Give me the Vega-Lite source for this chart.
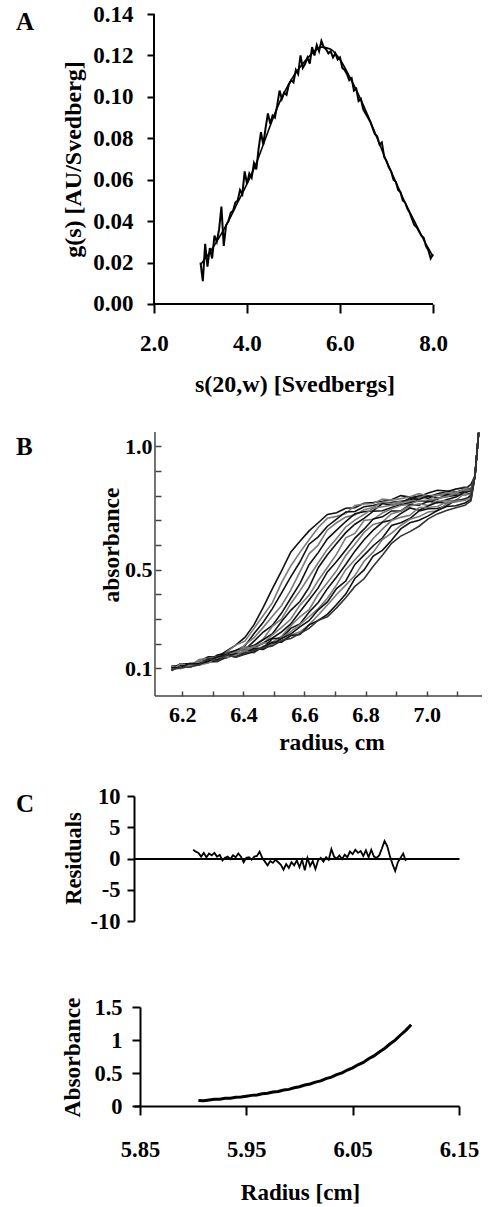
{
"$schema":"https://vega.github.io/schema/vega-lite/v6.json",
"background":"white",
"padding":{"left":16,"top":3,"right":0,"bottom":0},
"autosize":{"type":"pad"},
"bounds":"flush",
"spacing":86,
"config":{
"view":{"stroke":null},
"font":"Liberation Serif",
"axis":{"labelFont":"Liberation Serif","titleFont":"Liberation Serif","labelFontWeight":"bold","titleFontWeight":"bold","labelColor":"#000","titleColor":"#000","domainColor":"#000","tickColor":"#000","grid":false,"labelFlush":false,"labelOverlap":false,"domainWidth":2,"tickWidth":2,"titleBaseline":"alphabetic"},
"title":{"font":"Liberation Serif","fontWeight":"bold","fontSize":25,"anchor":"start","frame":"group","baseline":"alphabetic","offset":0,"align":"left","color":"#000"}
},
"datasets":{
"axA":[{"x":2,"x2":2,"y":0,"y2":0.14},{"x":2,"x2":8,"y":0,"y2":0}],
"axB":[{"x":6.1107,"x2":6.1107,"y":-0.012,"y2":1.058},{"x":6.1107,"x2":7.181,"y":-0.012,"y2":-0.012}],
"afit":[{"x":3.0,"y":0.019},{"x":3.2,"y":0.025},{"x":3.4,"y":0.032},{"x":3.6,"y":0.040},{"x":3.8,"y":0.049},{"x":4.0,"y":0.058},{"x":4.2,"y":0.068},{"x":4.4,"y":0.080},{"x":4.6,"y":0.092},{"x":4.8,"y":0.102},{"x":5.0,"y":0.110},{"x":5.2,"y":0.116},{"x":5.4,"y":0.121},{"x":5.6,"y":0.124},{"x":5.8,"y":0.123},{"x":6.0,"y":0.118},{"x":6.2,"y":0.110},{"x":6.4,"y":0.101},{"x":6.6,"y":0.091},{"x":6.8,"y":0.080},{"x":7.0,"y":0.069},{"x":7.2,"y":0.059},{"x":7.4,"y":0.049},{"x":7.6,"y":0.040},{"x":7.8,"y":0.031},{"x":8.0,"y":0.023}],
"adat":[{"x":3.00,"y":0.020},{"x":3.05,"y":0.011},{"x":3.10,"y":0.029},{"x":3.15,"y":0.018},{"x":3.20,"y":0.027},{"x":3.25,"y":0.022},{"x":3.30,"y":0.033},{"x":3.35,"y":0.030},{"x":3.40,"y":0.036},{"x":3.45,"y":0.047},{"x":3.50,"y":0.028},{"x":3.55,"y":0.038},{"x":3.60,"y":0.040},{"x":3.65,"y":0.044},{"x":3.70,"y":0.045},{"x":3.75,"y":0.049},{"x":3.80,"y":0.050},{"x":3.85,"y":0.055},{"x":3.90,"y":0.053},{"x":3.95,"y":0.064},{"x":4.00,"y":0.058},{"x":4.05,"y":0.063},{"x":4.10,"y":0.061},{"x":4.15,"y":0.068},{"x":4.20,"y":0.065},{"x":4.25,"y":0.075},{"x":4.30,"y":0.083},{"x":4.35,"y":0.077},{"x":4.40,"y":0.085},{"x":4.45,"y":0.092},{"x":4.50,"y":0.087},{"x":4.55,"y":0.091},{"x":4.60,"y":0.090},{"x":4.65,"y":0.096},{"x":4.70,"y":0.103},{"x":4.75,"y":0.099},{"x":4.80,"y":0.102},{"x":4.85,"y":0.101},{"x":4.90,"y":0.106},{"x":4.95,"y":0.108},{"x":5.00,"y":0.107},{"x":5.05,"y":0.113},{"x":5.10,"y":0.111},{"x":5.15,"y":0.120},{"x":5.20,"y":0.114},{"x":5.25,"y":0.116},{"x":5.30,"y":0.119},{"x":5.35,"y":0.116},{"x":5.40,"y":0.124},{"x":5.45,"y":0.120},{"x":5.50,"y":0.125},{"x":5.55,"y":0.122},{"x":5.60,"y":0.127},{"x":5.65,"y":0.124},{"x":5.70,"y":0.123},{"x":5.75,"y":0.121},{"x":5.80,"y":0.122},{"x":5.85,"y":0.119},{"x":5.90,"y":0.121},{"x":5.95,"y":0.118},{"x":6.00,"y":0.119},{"x":6.05,"y":0.114},{"x":6.10,"y":0.113},{"x":6.15,"y":0.111},{"x":6.20,"y":0.108},{"x":6.25,"y":0.109},{"x":6.30,"y":0.103},{"x":6.35,"y":0.104},{"x":6.40,"y":0.098},{"x":6.45,"y":0.099},{"x":6.50,"y":0.094},{"x":6.55,"y":0.092},{"x":6.60,"y":0.090},{"x":6.65,"y":0.088},{"x":6.70,"y":0.085},{"x":6.75,"y":0.082},{"x":6.80,"y":0.081},{"x":6.85,"y":0.077},{"x":6.90,"y":0.078},{"x":6.95,"y":0.071},{"x":7.00,"y":0.069},{"x":7.05,"y":0.066},{"x":7.10,"y":0.064},{"x":7.15,"y":0.060},{"x":7.20,"y":0.059},{"x":7.25,"y":0.055},{"x":7.30,"y":0.054},{"x":7.35,"y":0.050},{"x":7.40,"y":0.049},{"x":7.45,"y":0.046},{"x":7.50,"y":0.044},{"x":7.55,"y":0.041},{"x":7.60,"y":0.038},{"x":7.65,"y":0.037},{"x":7.70,"y":0.035},{"x":7.75,"y":0.033},{"x":7.80,"y":0.032},{"x":7.85,"y":0.028},{"x":7.90,"y":0.026},{"x":7.95,"y":0.022},{"x":8.00,"y":0.024}],
"bd":[
{"c":0,"x":6.165,"y":0.094},{"c":0,"x":6.195,"y":0.109},{"c":0,"x":6.225,"y":0.110},{"c":0,"x":6.255,"y":0.128},{"c":0,"x":6.285,"y":0.147},{"c":0,"x":6.315,"y":0.146},{"c":0,"x":6.345,"y":0.171},{"c":0,"x":6.375,"y":0.194},{"c":0,"x":6.405,"y":0.225},{"c":0,"x":6.435,"y":0.277},{"c":0,"x":6.465,"y":0.347},{"c":0,"x":6.495,"y":0.423},{"c":0,"x":6.525,"y":0.495},{"c":0,"x":6.555,"y":0.571},{"c":0,"x":6.585,"y":0.615},{"c":0,"x":6.615,"y":0.657},{"c":0,"x":6.645,"y":0.690},{"c":0,"x":6.675,"y":0.724},{"c":0,"x":6.705,"y":0.731},{"c":0,"x":6.735,"y":0.749},{"c":0,"x":6.765,"y":0.751},{"c":0,"x":6.795,"y":0.769},{"c":0,"x":6.825,"y":0.772},{"c":0,"x":6.855,"y":0.777},{"c":0,"x":6.885,"y":0.783},{"c":0,"x":6.915,"y":0.800},{"c":0,"x":6.945,"y":0.794},{"c":0,"x":6.975,"y":0.796},{"c":0,"x":7.005,"y":0.811},{"c":0,"x":7.035,"y":0.822},{"c":0,"x":7.065,"y":0.819},{"c":0,"x":7.095,"y":0.814},{"c":0,"x":7.125,"y":0.826},{"c":0,"x":7.145,"y":0.846},{"c":0,"x":7.158,"y":0.88},{"c":0,"x":7.17,"y":1.055},
{"c":1,"x":6.165,"y":0.110},{"c":1,"x":6.195,"y":0.108},{"c":1,"x":6.225,"y":0.109},{"c":1,"x":6.255,"y":0.136},{"c":1,"x":6.285,"y":0.141},{"c":1,"x":6.315,"y":0.140},{"c":1,"x":6.345,"y":0.166},{"c":1,"x":6.375,"y":0.194},{"c":1,"x":6.405,"y":0.210},{"c":1,"x":6.435,"y":0.262},{"c":1,"x":6.465,"y":0.314},{"c":1,"x":6.495,"y":0.366},{"c":1,"x":6.525,"y":0.447},{"c":1,"x":6.555,"y":0.515},{"c":1,"x":6.585,"y":0.570},{"c":1,"x":6.615,"y":0.621},{"c":1,"x":6.645,"y":0.671},{"c":1,"x":6.675,"y":0.708},{"c":1,"x":6.705,"y":0.716},{"c":1,"x":6.735,"y":0.727},{"c":1,"x":6.765,"y":0.760},{"c":1,"x":6.795,"y":0.766},{"c":1,"x":6.825,"y":0.768},{"c":1,"x":6.855,"y":0.786},{"c":1,"x":6.885,"y":0.782},{"c":1,"x":6.915,"y":0.788},{"c":1,"x":6.945,"y":0.795},{"c":1,"x":6.975,"y":0.808},{"c":1,"x":7.005,"y":0.798},{"c":1,"x":7.035,"y":0.806},{"c":1,"x":7.065,"y":0.805},{"c":1,"x":7.095,"y":0.826},{"c":1,"x":7.125,"y":0.836},{"c":1,"x":7.145,"y":0.827},{"c":1,"x":7.158,"y":0.88},{"c":1,"x":7.17,"y":1.055},
{"c":2,"x":6.165,"y":0.104},{"c":2,"x":6.195,"y":0.108},{"c":2,"x":6.225,"y":0.106},{"c":2,"x":6.255,"y":0.128},{"c":2,"x":6.285,"y":0.130},{"c":2,"x":6.315,"y":0.154},{"c":2,"x":6.345,"y":0.162},{"c":2,"x":6.375,"y":0.172},{"c":2,"x":6.405,"y":0.191},{"c":2,"x":6.435,"y":0.241},{"c":2,"x":6.465,"y":0.287},{"c":2,"x":6.495,"y":0.342},{"c":2,"x":6.525,"y":0.406},{"c":2,"x":6.555,"y":0.471},{"c":2,"x":6.585,"y":0.531},{"c":2,"x":6.615,"y":0.603},{"c":2,"x":6.645,"y":0.633},{"c":2,"x":6.675,"y":0.676},{"c":2,"x":6.705,"y":0.705},{"c":2,"x":6.735,"y":0.734},{"c":2,"x":6.765,"y":0.736},{"c":2,"x":6.795,"y":0.755},{"c":2,"x":6.825,"y":0.760},{"c":2,"x":6.855,"y":0.770},{"c":2,"x":6.885,"y":0.773},{"c":2,"x":6.915,"y":0.777},{"c":2,"x":6.945,"y":0.782},{"c":2,"x":6.975,"y":0.799},{"c":2,"x":7.005,"y":0.789},{"c":2,"x":7.035,"y":0.808},{"c":2,"x":7.065,"y":0.816},{"c":2,"x":7.095,"y":0.827},{"c":2,"x":7.125,"y":0.832},{"c":2,"x":7.145,"y":0.826},{"c":2,"x":7.158,"y":0.88},{"c":2,"x":7.17,"y":1.055},
{"c":3,"x":6.165,"y":0.102},{"c":3,"x":6.195,"y":0.106},{"c":3,"x":6.225,"y":0.115},{"c":3,"x":6.255,"y":0.119},{"c":3,"x":6.285,"y":0.126},{"c":3,"x":6.315,"y":0.136},{"c":3,"x":6.345,"y":0.161},{"c":3,"x":6.375,"y":0.162},{"c":3,"x":6.405,"y":0.195},{"c":3,"x":6.435,"y":0.224},{"c":3,"x":6.465,"y":0.266},{"c":3,"x":6.495,"y":0.311},{"c":3,"x":6.525,"y":0.355},{"c":3,"x":6.555,"y":0.417},{"c":3,"x":6.585,"y":0.491},{"c":3,"x":6.615,"y":0.564},{"c":3,"x":6.645,"y":0.600},{"c":3,"x":6.675,"y":0.661},{"c":3,"x":6.705,"y":0.690},{"c":3,"x":6.735,"y":0.713},{"c":3,"x":6.765,"y":0.722},{"c":3,"x":6.795,"y":0.743},{"c":3,"x":6.825,"y":0.752},{"c":3,"x":6.855,"y":0.774},{"c":3,"x":6.885,"y":0.768},{"c":3,"x":6.915,"y":0.777},{"c":3,"x":6.945,"y":0.775},{"c":3,"x":6.975,"y":0.793},{"c":3,"x":7.005,"y":0.798},{"c":3,"x":7.035,"y":0.800},{"c":3,"x":7.065,"y":0.812},{"c":3,"x":7.095,"y":0.803},{"c":3,"x":7.125,"y":0.830},{"c":3,"x":7.145,"y":0.824},{"c":3,"x":7.158,"y":0.88},{"c":3,"x":7.17,"y":1.055},
{"c":4,"x":6.165,"y":0.109},{"c":4,"x":6.195,"y":0.108},{"c":4,"x":6.225,"y":0.115},{"c":4,"x":6.255,"y":0.127},{"c":4,"x":6.285,"y":0.123},{"c":4,"x":6.315,"y":0.152},{"c":4,"x":6.345,"y":0.155},{"c":4,"x":6.375,"y":0.169},{"c":4,"x":6.405,"y":0.176},{"c":4,"x":6.435,"y":0.210},{"c":4,"x":6.465,"y":0.247},{"c":4,"x":6.495,"y":0.274},{"c":4,"x":6.525,"y":0.324},{"c":4,"x":6.555,"y":0.384},{"c":4,"x":6.585,"y":0.443},{"c":4,"x":6.615,"y":0.520},{"c":4,"x":6.645,"y":0.569},{"c":4,"x":6.675,"y":0.625},{"c":4,"x":6.705,"y":0.660},{"c":4,"x":6.735,"y":0.695},{"c":4,"x":6.765,"y":0.727},{"c":4,"x":6.795,"y":0.735},{"c":4,"x":6.825,"y":0.739},{"c":4,"x":6.855,"y":0.768},{"c":4,"x":6.885,"y":0.761},{"c":4,"x":6.915,"y":0.770},{"c":4,"x":6.945,"y":0.789},{"c":4,"x":6.975,"y":0.785},{"c":4,"x":7.005,"y":0.799},{"c":4,"x":7.035,"y":0.790},{"c":4,"x":7.065,"y":0.796},{"c":4,"x":7.095,"y":0.802},{"c":4,"x":7.125,"y":0.822},{"c":4,"x":7.145,"y":0.823},{"c":4,"x":7.158,"y":0.88},{"c":4,"x":7.17,"y":1.055},
{"c":5,"x":6.165,"y":0.102},{"c":5,"x":6.195,"y":0.098},{"c":5,"x":6.225,"y":0.110},{"c":5,"x":6.255,"y":0.132},{"c":5,"x":6.285,"y":0.131},{"c":5,"x":6.315,"y":0.134},{"c":5,"x":6.345,"y":0.142},{"c":5,"x":6.375,"y":0.160},{"c":5,"x":6.405,"y":0.185},{"c":5,"x":6.435,"y":0.190},{"c":5,"x":6.465,"y":0.219},{"c":5,"x":6.495,"y":0.270},{"c":5,"x":6.525,"y":0.300},{"c":5,"x":6.555,"y":0.362},{"c":5,"x":6.585,"y":0.414},{"c":5,"x":6.615,"y":0.471},{"c":5,"x":6.645,"y":0.528},{"c":5,"x":6.675,"y":0.583},{"c":5,"x":6.705,"y":0.626},{"c":5,"x":6.735,"y":0.673},{"c":5,"x":6.765,"y":0.701},{"c":5,"x":6.795,"y":0.724},{"c":5,"x":6.825,"y":0.749},{"c":5,"x":6.855,"y":0.755},{"c":5,"x":6.885,"y":0.761},{"c":5,"x":6.915,"y":0.770},{"c":5,"x":6.945,"y":0.779},{"c":5,"x":6.975,"y":0.776},{"c":5,"x":7.005,"y":0.782},{"c":5,"x":7.035,"y":0.804},{"c":5,"x":7.065,"y":0.799},{"c":5,"x":7.095,"y":0.814},{"c":5,"x":7.125,"y":0.823},{"c":5,"x":7.145,"y":0.822},{"c":5,"x":7.158,"y":0.88},{"c":5,"x":7.17,"y":1.055},
{"c":6,"x":6.165,"y":0.100},{"c":6,"x":6.195,"y":0.118},{"c":6,"x":6.225,"y":0.112},{"c":6,"x":6.255,"y":0.113},{"c":6,"x":6.285,"y":0.129},{"c":6,"x":6.315,"y":0.149},{"c":6,"x":6.345,"y":0.143},{"c":6,"x":6.375,"y":0.172},{"c":6,"x":6.405,"y":0.179},{"c":6,"x":6.435,"y":0.193},{"c":6,"x":6.465,"y":0.216},{"c":6,"x":6.495,"y":0.240},{"c":6,"x":6.525,"y":0.290},{"c":6,"x":6.555,"y":0.335},{"c":6,"x":6.585,"y":0.371},{"c":6,"x":6.615,"y":0.428},{"c":6,"x":6.645,"y":0.508},{"c":6,"x":6.675,"y":0.560},{"c":6,"x":6.705,"y":0.606},{"c":6,"x":6.735,"y":0.650},{"c":6,"x":6.765,"y":0.684},{"c":6,"x":6.795,"y":0.708},{"c":6,"x":6.825,"y":0.737},{"c":6,"x":6.855,"y":0.739},{"c":6,"x":6.885,"y":0.752},{"c":6,"x":6.915,"y":0.763},{"c":6,"x":6.945,"y":0.771},{"c":6,"x":6.975,"y":0.780},{"c":6,"x":7.005,"y":0.775},{"c":6,"x":7.035,"y":0.785},{"c":6,"x":7.065,"y":0.804},{"c":6,"x":7.095,"y":0.801},{"c":6,"x":7.125,"y":0.815},{"c":6,"x":7.145,"y":0.818},{"c":6,"x":7.158,"y":0.88},{"c":6,"x":7.17,"y":1.055},
{"c":7,"x":6.165,"y":0.109},{"c":7,"x":6.195,"y":0.103},{"c":7,"x":6.225,"y":0.112},{"c":7,"x":6.255,"y":0.120},{"c":7,"x":6.285,"y":0.136},{"c":7,"x":6.315,"y":0.148},{"c":7,"x":6.345,"y":0.152},{"c":7,"x":6.375,"y":0.166},{"c":7,"x":6.405,"y":0.181},{"c":7,"x":6.435,"y":0.186},{"c":7,"x":6.465,"y":0.200},{"c":7,"x":6.495,"y":0.236},{"c":7,"x":6.525,"y":0.266},{"c":7,"x":6.555,"y":0.299},{"c":7,"x":6.585,"y":0.356},{"c":7,"x":6.615,"y":0.396},{"c":7,"x":6.645,"y":0.456},{"c":7,"x":6.675,"y":0.509},{"c":7,"x":6.705,"y":0.563},{"c":7,"x":6.735,"y":0.629},{"c":7,"x":6.765,"y":0.647},{"c":7,"x":6.795,"y":0.699},{"c":7,"x":6.825,"y":0.704},{"c":7,"x":6.855,"y":0.730},{"c":7,"x":6.885,"y":0.747},{"c":7,"x":6.915,"y":0.760},{"c":7,"x":6.945,"y":0.765},{"c":7,"x":6.975,"y":0.780},{"c":7,"x":7.005,"y":0.780},{"c":7,"x":7.035,"y":0.789},{"c":7,"x":7.065,"y":0.796},{"c":7,"x":7.095,"y":0.809},{"c":7,"x":7.125,"y":0.801},{"c":7,"x":7.145,"y":0.811},{"c":7,"x":7.158,"y":0.88},{"c":7,"x":7.17,"y":1.055},
{"c":8,"x":6.165,"y":0.100},{"c":8,"x":6.195,"y":0.111},{"c":8,"x":6.225,"y":0.105},{"c":8,"x":6.255,"y":0.119},{"c":8,"x":6.285,"y":0.130},{"c":8,"x":6.315,"y":0.147},{"c":8,"x":6.345,"y":0.151},{"c":8,"x":6.375,"y":0.151},{"c":8,"x":6.405,"y":0.160},{"c":8,"x":6.435,"y":0.184},{"c":8,"x":6.465,"y":0.203},{"c":8,"x":6.495,"y":0.223},{"c":8,"x":6.525,"y":0.248},{"c":8,"x":6.555,"y":0.280},{"c":8,"x":6.585,"y":0.329},{"c":8,"x":6.615,"y":0.377},{"c":8,"x":6.645,"y":0.426},{"c":8,"x":6.675,"y":0.491},{"c":8,"x":6.705,"y":0.533},{"c":8,"x":6.735,"y":0.580},{"c":8,"x":6.765,"y":0.628},{"c":8,"x":6.795,"y":0.664},{"c":8,"x":6.825,"y":0.705},{"c":8,"x":6.855,"y":0.714},{"c":8,"x":6.885,"y":0.738},{"c":8,"x":6.915,"y":0.738},{"c":8,"x":6.945,"y":0.763},{"c":8,"x":6.975,"y":0.761},{"c":8,"x":7.005,"y":0.777},{"c":8,"x":7.035,"y":0.771},{"c":8,"x":7.065,"y":0.783},{"c":8,"x":7.095,"y":0.794},{"c":8,"x":7.125,"y":0.813},{"c":8,"x":7.145,"y":0.803},{"c":8,"x":7.158,"y":0.88},{"c":8,"x":7.17,"y":1.055},
{"c":9,"x":6.165,"y":0.100},{"c":9,"x":6.195,"y":0.100},{"c":9,"x":6.225,"y":0.110},{"c":9,"x":6.255,"y":0.127},{"c":9,"x":6.285,"y":0.127},{"c":9,"x":6.315,"y":0.144},{"c":9,"x":6.345,"y":0.143},{"c":9,"x":6.375,"y":0.156},{"c":9,"x":6.405,"y":0.169},{"c":9,"x":6.435,"y":0.189},{"c":9,"x":6.465,"y":0.202},{"c":9,"x":6.495,"y":0.206},{"c":9,"x":6.525,"y":0.230},{"c":9,"x":6.555,"y":0.272},{"c":9,"x":6.585,"y":0.309},{"c":9,"x":6.615,"y":0.338},{"c":9,"x":6.645,"y":0.400},{"c":9,"x":6.675,"y":0.447},{"c":9,"x":6.705,"y":0.496},{"c":9,"x":6.735,"y":0.557},{"c":9,"x":6.765,"y":0.603},{"c":9,"x":6.795,"y":0.651},{"c":9,"x":6.825,"y":0.683},{"c":9,"x":6.855,"y":0.693},{"c":9,"x":6.885,"y":0.727},{"c":9,"x":6.915,"y":0.737},{"c":9,"x":6.945,"y":0.758},{"c":9,"x":6.975,"y":0.767},{"c":9,"x":7.005,"y":0.760},{"c":9,"x":7.035,"y":0.777},{"c":9,"x":7.065,"y":0.779},{"c":9,"x":7.095,"y":0.781},{"c":9,"x":7.125,"y":0.809},{"c":9,"x":7.145,"y":0.802},{"c":9,"x":7.158,"y":0.88},{"c":9,"x":7.17,"y":1.055},
{"c":10,"x":6.165,"y":0.091},{"c":10,"x":6.195,"y":0.118},{"c":10,"x":6.225,"y":0.118},{"c":10,"x":6.255,"y":0.117},{"c":10,"x":6.285,"y":0.138},{"c":10,"x":6.315,"y":0.134},{"c":10,"x":6.345,"y":0.157},{"c":10,"x":6.375,"y":0.151},{"c":10,"x":6.405,"y":0.168},{"c":10,"x":6.435,"y":0.178},{"c":10,"x":6.465,"y":0.183},{"c":10,"x":6.495,"y":0.220},{"c":10,"x":6.525,"y":0.223},{"c":10,"x":6.555,"y":0.262},{"c":10,"x":6.585,"y":0.280},{"c":10,"x":6.615,"y":0.327},{"c":10,"x":6.645,"y":0.367},{"c":10,"x":6.675,"y":0.423},{"c":10,"x":6.705,"y":0.470},{"c":10,"x":6.735,"y":0.521},{"c":10,"x":6.765,"y":0.575},{"c":10,"x":6.795,"y":0.621},{"c":10,"x":6.825,"y":0.660},{"c":10,"x":6.855,"y":0.692},{"c":10,"x":6.885,"y":0.701},{"c":10,"x":6.915,"y":0.727},{"c":10,"x":6.945,"y":0.750},{"c":10,"x":6.975,"y":0.741},{"c":10,"x":7.005,"y":0.758},{"c":10,"x":7.035,"y":0.773},{"c":10,"x":7.065,"y":0.769},{"c":10,"x":7.095,"y":0.777},{"c":10,"x":7.125,"y":0.787},{"c":10,"x":7.145,"y":0.795},{"c":10,"x":7.158,"y":0.88},{"c":10,"x":7.17,"y":1.055},
{"c":11,"x":6.165,"y":0.098},{"c":11,"x":6.195,"y":0.105},{"c":11,"x":6.225,"y":0.105},{"c":11,"x":6.255,"y":0.123},{"c":11,"x":6.285,"y":0.127},{"c":11,"x":6.315,"y":0.128},{"c":11,"x":6.345,"y":0.148},{"c":11,"x":6.375,"y":0.154},{"c":11,"x":6.405,"y":0.173},{"c":11,"x":6.435,"y":0.184},{"c":11,"x":6.465,"y":0.185},{"c":11,"x":6.495,"y":0.195},{"c":11,"x":6.525,"y":0.223},{"c":11,"x":6.555,"y":0.249},{"c":11,"x":6.585,"y":0.277},{"c":11,"x":6.615,"y":0.309},{"c":11,"x":6.645,"y":0.342},{"c":11,"x":6.675,"y":0.384},{"c":11,"x":6.705,"y":0.438},{"c":11,"x":6.735,"y":0.500},{"c":11,"x":6.765,"y":0.540},{"c":11,"x":6.795,"y":0.580},{"c":11,"x":6.825,"y":0.626},{"c":11,"x":6.855,"y":0.664},{"c":11,"x":6.885,"y":0.699},{"c":11,"x":6.915,"y":0.712},{"c":11,"x":6.945,"y":0.720},{"c":11,"x":6.975,"y":0.752},{"c":11,"x":7.005,"y":0.752},{"c":11,"x":7.035,"y":0.756},{"c":11,"x":7.065,"y":0.774},{"c":11,"x":7.095,"y":0.774},{"c":11,"x":7.125,"y":0.782},{"c":11,"x":7.145,"y":0.801},{"c":11,"x":7.158,"y":0.88},{"c":11,"x":7.17,"y":1.055},
{"c":12,"x":6.165,"y":0.091},{"c":12,"x":6.195,"y":0.118},{"c":12,"x":6.225,"y":0.114},{"c":12,"x":6.255,"y":0.119},{"c":12,"x":6.285,"y":0.127},{"c":12,"x":6.315,"y":0.128},{"c":12,"x":6.345,"y":0.147},{"c":12,"x":6.375,"y":0.160},{"c":12,"x":6.405,"y":0.159},{"c":12,"x":6.435,"y":0.180},{"c":12,"x":6.465,"y":0.177},{"c":12,"x":6.495,"y":0.198},{"c":12,"x":6.525,"y":0.221},{"c":12,"x":6.555,"y":0.239},{"c":12,"x":6.585,"y":0.268},{"c":12,"x":6.615,"y":0.293},{"c":12,"x":6.645,"y":0.337},{"c":12,"x":6.675,"y":0.369},{"c":12,"x":6.705,"y":0.423},{"c":12,"x":6.735,"y":0.454},{"c":12,"x":6.765,"y":0.521},{"c":12,"x":6.795,"y":0.559},{"c":12,"x":6.825,"y":0.597},{"c":12,"x":6.855,"y":0.628},{"c":12,"x":6.885,"y":0.679},{"c":12,"x":6.915,"y":0.690},{"c":12,"x":6.945,"y":0.707},{"c":12,"x":6.975,"y":0.738},{"c":12,"x":7.005,"y":0.747},{"c":12,"x":7.035,"y":0.748},{"c":12,"x":7.065,"y":0.759},{"c":12,"x":7.095,"y":0.781},{"c":12,"x":7.125,"y":0.782},{"c":12,"x":7.145,"y":0.801},{"c":12,"x":7.158,"y":0.88},{"c":12,"x":7.17,"y":1.055},
{"c":13,"x":6.165,"y":0.093},{"c":13,"x":6.195,"y":0.118},{"c":13,"x":6.225,"y":0.112},{"c":13,"x":6.255,"y":0.114},{"c":13,"x":6.285,"y":0.122},{"c":13,"x":6.315,"y":0.146},{"c":13,"x":6.345,"y":0.147},{"c":13,"x":6.375,"y":0.153},{"c":13,"x":6.405,"y":0.171},{"c":13,"x":6.435,"y":0.163},{"c":13,"x":6.465,"y":0.190},{"c":13,"x":6.495,"y":0.196},{"c":13,"x":6.525,"y":0.212},{"c":13,"x":6.555,"y":0.234},{"c":13,"x":6.585,"y":0.248},{"c":13,"x":6.615,"y":0.276},{"c":13,"x":6.645,"y":0.316},{"c":13,"x":6.675,"y":0.357},{"c":13,"x":6.705,"y":0.399},{"c":13,"x":6.735,"y":0.437},{"c":13,"x":6.765,"y":0.476},{"c":13,"x":6.795,"y":0.534},{"c":13,"x":6.825,"y":0.571},{"c":13,"x":6.855,"y":0.622},{"c":13,"x":6.885,"y":0.648},{"c":13,"x":6.915,"y":0.679},{"c":13,"x":6.945,"y":0.704},{"c":13,"x":6.975,"y":0.715},{"c":13,"x":7.005,"y":0.734},{"c":13,"x":7.035,"y":0.739},{"c":13,"x":7.065,"y":0.767},{"c":13,"x":7.095,"y":0.778},{"c":13,"x":7.125,"y":0.781},{"c":13,"x":7.145,"y":0.793},{"c":13,"x":7.158,"y":0.88},{"c":13,"x":7.17,"y":1.055},
{"c":14,"x":6.165,"y":0.102},{"c":14,"x":6.195,"y":0.103},{"c":14,"x":6.225,"y":0.120},{"c":14,"x":6.255,"y":0.117},{"c":14,"x":6.285,"y":0.129},{"c":14,"x":6.315,"y":0.146},{"c":14,"x":6.345,"y":0.155},{"c":14,"x":6.375,"y":0.145},{"c":14,"x":6.405,"y":0.157},{"c":14,"x":6.435,"y":0.167},{"c":14,"x":6.465,"y":0.187},{"c":14,"x":6.495,"y":0.205},{"c":14,"x":6.525,"y":0.206},{"c":14,"x":6.555,"y":0.233},{"c":14,"x":6.585,"y":0.237},{"c":14,"x":6.615,"y":0.276},{"c":14,"x":6.645,"y":0.294},{"c":14,"x":6.675,"y":0.319},{"c":14,"x":6.705,"y":0.359},{"c":14,"x":6.735,"y":0.401},{"c":14,"x":6.765,"y":0.464},{"c":14,"x":6.795,"y":0.499},{"c":14,"x":6.825,"y":0.555},{"c":14,"x":6.855,"y":0.578},{"c":14,"x":6.885,"y":0.619},{"c":14,"x":6.915,"y":0.665},{"c":14,"x":6.945,"y":0.690},{"c":14,"x":6.975,"y":0.700},{"c":14,"x":7.005,"y":0.718},{"c":14,"x":7.035,"y":0.740},{"c":14,"x":7.065,"y":0.756},{"c":14,"x":7.095,"y":0.759},{"c":14,"x":7.125,"y":0.770},{"c":14,"x":7.145,"y":0.785},{"c":14,"x":7.158,"y":0.88},{"c":14,"x":7.17,"y":1.055},
{"c":15,"x":6.165,"y":0.093},{"c":15,"x":6.195,"y":0.103},{"c":15,"x":6.225,"y":0.105},{"c":15,"x":6.255,"y":0.114},{"c":15,"x":6.285,"y":0.140},{"c":15,"x":6.315,"y":0.128},{"c":15,"x":6.345,"y":0.155},{"c":15,"x":6.375,"y":0.145},{"c":15,"x":6.405,"y":0.160},{"c":15,"x":6.435,"y":0.172},{"c":15,"x":6.465,"y":0.184},{"c":15,"x":6.495,"y":0.191},{"c":15,"x":6.525,"y":0.213},{"c":15,"x":6.555,"y":0.221},{"c":15,"x":6.585,"y":0.241},{"c":15,"x":6.615,"y":0.262},{"c":15,"x":6.645,"y":0.295},{"c":15,"x":6.675,"y":0.309},{"c":15,"x":6.705,"y":0.345},{"c":15,"x":6.735,"y":0.386},{"c":15,"x":6.765,"y":0.432},{"c":15,"x":6.795,"y":0.463},{"c":15,"x":6.825,"y":0.514},{"c":15,"x":6.855,"y":0.558},{"c":15,"x":6.885,"y":0.607},{"c":15,"x":6.915,"y":0.636},{"c":15,"x":6.945,"y":0.654},{"c":15,"x":6.975,"y":0.676},{"c":15,"x":7.005,"y":0.706},{"c":15,"x":7.035,"y":0.726},{"c":15,"x":7.065,"y":0.740},{"c":15,"x":7.095,"y":0.751},{"c":15,"x":7.125,"y":0.761},{"c":15,"x":7.145,"y":0.779},{"c":15,"x":7.158,"y":0.88},{"c":15,"x":7.17,"y":1.055}
],
"res":[{"x":5.9,"y":1.4},{"x":5.9025,"y":1.1},{"x":5.905,"y":0.9},{"x":5.9075,"y":0.3},{"x":5.91,"y":0.9},{"x":5.9125,"y":0.2},{"x":5.915,"y":0.8},{"x":5.9175,"y":0.5},{"x":5.92,"y":0.9},{"x":5.9225,"y":0.3},{"x":5.925,"y":0.6},{"x":5.9275,"y":-0.3},{"x":5.93,"y":0.1},{"x":5.9325,"y":0.3},{"x":5.935,"y":-0.1},{"x":5.9375,"y":0.5},{"x":5.94,"y":0.2},{"x":5.9425,"y":0.8},{"x":5.945,"y":0.3},{"x":5.9475,"y":-0.6},{"x":5.95,"y":0.1},{"x":5.9525,"y":0.2},{"x":5.955,"y":-0.2},{"x":5.9575,"y":0.3},{"x":5.96,"y":0.4},{"x":5.9625,"y":1.1},{"x":5.965,"y":0.1},{"x":5.9675,"y":-0.5},{"x":5.97,"y":-1.1},{"x":5.9725,"y":-0.4},{"x":5.975,"y":-0.7},{"x":5.9775,"y":-0.2},{"x":5.98,"y":-0.6},{"x":5.9825,"y":-1.0},{"x":5.985,"y":-1.8},{"x":5.9875,"y":-0.9},{"x":5.99,"y":-1.5},{"x":5.9925,"y":-0.6},{"x":5.995,"y":-1.1},{"x":5.9975,"y":-0.3},{"x":6.0,"y":-1.4},{"x":6.0025,"y":-0.2},{"x":6.005,"y":-1.9},{"x":6.0075,"y":0.1},{"x":6.01,"y":-1.2},{"x":6.0125,"y":-0.4},{"x":6.015,"y":-1.7},{"x":6.0175,"y":-0.3},{"x":6.02,"y":0.1},{"x":6.0225,"y":-0.5},{"x":6.025,"y":0.2},{"x":6.0275,"y":-0.2},{"x":6.03,"y":1.5},{"x":6.0325,"y":0.3},{"x":6.035,"y":0.0},{"x":6.0375,"y":0.5},{"x":6.04,"y":-0.1},{"x":6.0425,"y":0.6},{"x":6.045,"y":0.2},{"x":6.0475,"y":1.1},{"x":6.05,"y":0.7},{"x":6.0525,"y":1.4},{"x":6.055,"y":0.9},{"x":6.0575,"y":1.2},{"x":6.06,"y":0.4},{"x":6.0625,"y":1.3},{"x":6.065,"y":0.2},{"x":6.0675,"y":1.4},{"x":6.07,"y":0.3},{"x":6.0725,"y":0.1},{"x":6.075,"y":0.5},{"x":6.0775,"y":1.6},{"x":6.08,"y":2.8},{"x":6.0825,"y":2.0},{"x":6.085,"y":0.4},{"x":6.0875,"y":-0.9},{"x":6.09,"y":-2.0},{"x":6.0925,"y":-0.6},{"x":6.095,"y":0.1},{"x":6.0975,"y":0.8},{"x":6.1,"y":-0.4}],
"absc":[{"x":5.905,"y":0.085},{"x":5.91,"y":0.078},{"x":5.915,"y":0.090},{"x":5.92,"y":0.101},{"x":5.925,"y":0.103},{"x":5.93,"y":0.116},{"x":5.935,"y":0.119},{"x":5.94,"y":0.131},{"x":5.945,"y":0.136},{"x":5.95,"y":0.148},{"x":5.955,"y":0.161},{"x":5.96,"y":0.168},{"x":5.965,"y":0.186},{"x":5.97,"y":0.193},{"x":5.975,"y":0.211},{"x":5.98,"y":0.221},{"x":5.985,"y":0.241},{"x":5.99,"y":0.252},{"x":5.995,"y":0.277},{"x":6.0,"y":0.291},{"x":6.005,"y":0.318},{"x":6.01,"y":0.333},{"x":6.015,"y":0.362},{"x":6.02,"y":0.381},{"x":6.025,"y":0.415},{"x":6.03,"y":0.438},{"x":6.035,"y":0.476},{"x":6.04,"y":0.503},{"x":6.045,"y":0.545},{"x":6.05,"y":0.578},{"x":6.055,"y":0.624},{"x":6.06,"y":0.661},{"x":6.065,"y":0.716},{"x":6.07,"y":0.759},{"x":6.075,"y":0.819},{"x":6.08,"y":0.871},{"x":6.085,"y":0.939},{"x":6.09,"y":0.998},{"x":6.095,"y":1.076},{"x":6.1,"y":1.146},{"x":6.105,"y":1.232}]
},
"vconcat":[
{
"width":299,"height":332,
"title":{"text":"A","dx":-118,"dy":30.5,"offset":-1.5},
"encoding":{
"x":{"field":"x","type":"quantitative","scale":{"domain":[1.5699,8.0],"nice":false,"zero":false},"axis":{"values":[2,4,6,8],"format":".1f","offset":-42,"domain":false,"tickSize":9,"labelFontSize":23,"labelPadding":37,"labelBaseline":"alphabetic","title":"s(20,w) [Svedbergs]","titleFontSize":24,"titleX":160.5,"titleY":87}},
"y":{"field":"y","type":"quantitative","scale":{"domain":[-0.02028,0.14],"nice":false,"zero":false},"axis":{"values":[0,0.02,0.04,0.06,0.08,0.1,0.12,0.14],"format":".2f","offset":-20,"domain":false,"tickSize":7,"labelPadding":14,"labelFontSize":23,"title":"g(s) [AU/Svedberg]","titleFontSize":24,"titleX":-74,"titleY":145}}
},
"layer":[
{"data":{"name":"axA"},"mark":{"type":"rule","color":"#000","strokeWidth":2},"encoding":{"x2":{"field":"x2"},"y2":{"field":"y2"}}},
{"data":{"name":"afit"},"mark":{"type":"line","color":"#000","strokeWidth":1.6,"interpolate":"monotone"},"encoding":{}},
{"data":{"name":"adat"},"mark":{"type":"line","color":"#000","strokeWidth":2},"encoding":{}}
]
},
{
"width":348,"height":278,
"title":{"text":"B","dx":-118,"dy":26,"offset":-4},
"encoding":{
"x":{"field":"x","type":"quantitative","scale":{"domain":[6.042,7.181],"nice":false,"zero":false},"axis":{"values":[6.2,6.3,6.4,6.5,6.6,6.7,6.8,6.9,7.0,7.1],"labelExpr":"round(datum.value*10) % 2 == 0 ? format(datum.value, '.1f') : ''","offset":-14,"domain":false,"tickSize":-5,"tickColor":"#444","tickWidth":1.5,"labelFontSize":22,"labelPadding":30,"labelBaseline":"alphabetic","title":"radius, cm","titleFontSize":23.5,"titleX":197.5,"titleY":53}},
"y":{"field":"y","type":"quantitative","scale":{"domain":[-0.069,1.058],"nice":false,"zero":false},"axis":{"values":[0.1,0.2,0.3,0.4,0.5,0.6,0.7,0.8,0.9,1.0],"labelExpr":"datum.value == 0.1 || datum.value == 0.5 || datum.value == 1 ? format(datum.value, '.1f') : ''","offset":-21,"domain":false,"tickSize":-6,"tickColor":"#444","tickWidth":1.5,"labelPadding":9,"labelFontSize":22,"title":"absorbance","titleFontSize":23.5,"titleX":-37,"titleY":112.5}}
},
"layer":[
{"data":{"name":"axB"},"mark":{"type":"rule","color":"#444","strokeWidth":1.5},"encoding":{"x2":{"field":"x2"},"y2":{"field":"y2"}}},
{"data":{"name":"bd"},"mark":{"type":"line","strokeWidth":1.6},"encoding":{"color":{"field":"c","type":"nominal","scale":{"domain":[0,1,2,3,4,5,6,7,8,9,10,11,12,13,14,15],"range":["#111111","#7a7a7a","#111111","#7a7a7a","#111111","#7a7a7a","#111111","#7a7a7a","#111111","#7a7a7a","#111111","#7a7a7a","#111111","#7a7a7a","#111111","#333333"]},"legend":null}}}
]
},
{
"width":325,"height":125,
"title":{"text":"C","dx":-118,"dy":30,"offset":-2},
"data":{"name":"res"},
"mark":{"type":"line","color":"#000","strokeWidth":1.8},
"encoding":{
"x":{"field":"x","type":"quantitative","scale":{"domain":[5.8444,6.15],"nice":false,"zero":false},"axis":{"offset":-62.5,"ticks":false,"labels":false,"title":null,"domainWidth":2}},
"y":{"field":"y","type":"quantitative","scale":{"domain":[-10,10],"nice":false,"zero":false},"axis":{"values":[-10,-5,0,5,10],"labelExpr":"datum.value < 0 ? '-' + abs(datum.value) : '' + datum.value","tickSize":7,"labelPadding":7,"labelFontSize":22.5,"title":"Residuals","titleFontSize":22.5,"titleX":-54,"titleY":62}}
}
},
{
"width":325,"height":99,
"data":{"name":"absc"},
"mark":{"type":"line","color":"#000","strokeWidth":3},
"encoding":{
"x":{"field":"x","type":"quantitative","scale":{"domain":[5.8444,6.15],"nice":false,"zero":false},"axis":{"values":[5.85,5.95,6.05,6.15],"format":".2f","tickSize":9,"labelPadding":41,"labelBaseline":"alphabetic","labelFontSize":22.5,"title":"Radius [cm]","titleFontSize":23,"titleX":166,"titleY":93}},
"y":{"field":"y","type":"quantitative","scale":{"domain":[0,1.5],"nice":false,"zero":false},"axis":{"values":[0,0.5,1,1.5],"labelExpr":"'' + datum.value","offset":-6,"tickSize":8,"labelPadding":10,"labelFontSize":22.5,"title":"Absorbance","titleFontSize":23.5,"titleX":-61,"titleY":50}}
}
}
]
}
